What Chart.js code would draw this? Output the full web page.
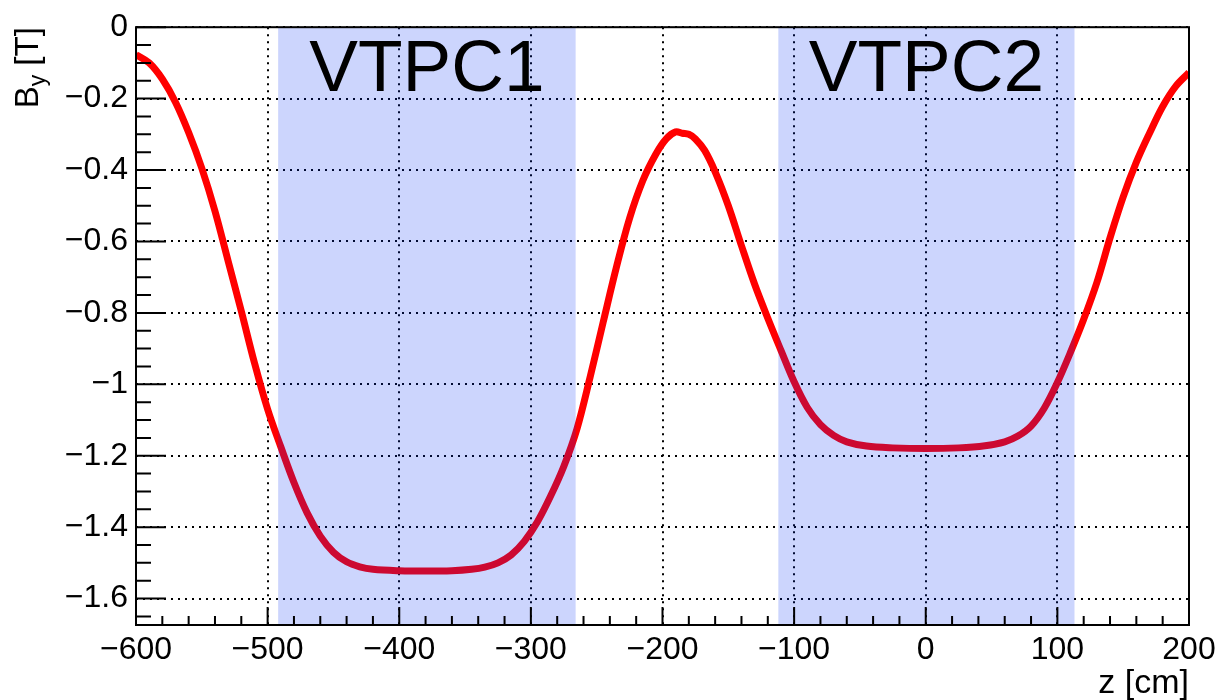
<!DOCTYPE html>
<html>
<head>
<meta charset="utf-8">
<script src="https://cdn.jsdelivr.net/npm/chart.js@4"></script>
<style>
  html, body { margin: 0; padding: 0; background: #fff; }
  #wrap { width: 1225px; height: 700px; }
</style>
</head>
<body>
<div id="wrap"><canvas id="field"></canvas></div>
<script>
/*_____________________DATA____________________*/

// z position [cm]
const zVals = [-600, -590, -580, -570, -560, -550, -540, -530, -520, -510,
  -500, -490, -480, -470, -460, -450, -440, -430, -420, -400,
  -380, -360, -345, -335, -325, -315, -305, -295, -285, -275,
  -265, -255, -245, -235, -225, -215, -205, -197, -190, -185,
  -180, -175, -168, -160, -150, -140, -130, -120, -110, -100,
  -90, -80, -70, -60, -45, -25, 0, 25, 45, 60,
  70, 80, 90, 100, 110, 120, 130, 140, 150, 160,
  170, 180, 190, 200];

// B_y [T]
const byVals = [-0.077, -0.10, -0.145, -0.21, -0.295, -0.395, -0.515, -0.655, -0.795, -0.94,
  -1.07, -1.175, -1.275, -1.36, -1.425, -1.47, -1.497, -1.511, -1.518, -1.522,
  -1.523, -1.522, -1.518, -1.512, -1.50, -1.478, -1.44, -1.385, -1.313, -1.23,
  -1.125, -0.98, -0.825, -0.672, -0.535, -0.43, -0.355, -0.312, -0.293, -0.297,
  -0.30, -0.313, -0.345, -0.405, -0.50, -0.612, -0.72, -0.815, -0.905, -0.993,
  -1.065, -1.113, -1.143, -1.161, -1.173, -1.178, -1.18, -1.178, -1.172, -1.161,
  -1.145, -1.117, -1.067, -0.995, -0.91, -0.818, -0.715, -0.59, -0.475, -0.378,
  -0.297, -0.222, -0.165, -0.127];

// detector regions
const bandNames = ['VTPC1', 'VTPC2'];
const bandStart = [-492, -112];
const bandEnd = [-266, 113];

const xMin = -600, xMax = 200;
const yMin = -1.674, yMax = 0;

const FONT = '"Liberation Sans", Arial, Helvetica, sans-serif';
const minus = v => (v < 0 ? '\u2212' : '') + Math.abs(v).toString();

/*_____________________PLUGINS____________________*/

// blue VTPC boxes are laid over the curve, then the labels
const bands = {
  id: 'bands',
  afterDatasetsDraw(chart) {
    const {ctx, chartArea: a, scales: {x}} = chart;
    ctx.save();
    for (let i = 0; i < bandNames.length; i++) {
      const x0 = x.getPixelForValue(bandStart[i]);
      const x1 = x.getPixelForValue(bandEnd[i]);
      ctx.fillStyle = 'rgba(0, 45, 245, 0.2)';
      ctx.fillRect(x0, a.top, x1 - x0, a.bottom - a.top);
      ctx.fillStyle = '#000';
      ctx.font = '73px ' + FONT;
      ctx.textAlign = 'center';
      ctx.textBaseline = 'alphabetic';
      ctx.fillText(bandNames[i], (x0 + x1) / 2, a.top + 64);
    }
    ctx.restore();
  }
};

// ROOT style frame, inward ticks and axis titles
const frame = {
  id: 'frame',
  afterDraw(chart) {
    const {ctx, chartArea: a, scales: {x, y}} = chart;
    ctx.save();
    ctx.strokeStyle = '#000';
    ctx.lineWidth = 2;
    ctx.strokeRect(a.left, a.top, a.right - a.left, a.bottom - a.top);

    ctx.beginPath();
    for (let v = xMin; v <= xMax + 0.01; v += 20) {
      const px = x.getPixelForValue(v);
      const len = Math.abs(v % 100) < 0.01 ? 18 : 9;
      ctx.moveTo(px, a.bottom);
      ctx.lineTo(px, a.bottom - len);
    }
    for (let k = 0; k * 0.05 <= -yMin; k++) {
      const py = y.getPixelForValue(-k * 0.05);
      const len = k % 4 === 0 ? 30 : 15;
      ctx.moveTo(a.left, py);
      ctx.lineTo(a.left + len, py);
    }
    ctx.stroke();

    // x title
    ctx.fillStyle = '#000';
    ctx.font = '34px ' + FONT;
    ctx.textAlign = 'right';
    ctx.textBaseline = 'alphabetic';
    ctx.fillText('z [cm]', a.right, 693);

    // y title, rotated, with subscript
    const big = '33px ' + FONT, small = '23px ' + FONT;
    ctx.font = big;
    const wB = ctx.measureText('B').width;
    const wT = ctx.measureText(' [T]').width;
    ctx.font = small;
    const wy = ctx.measureText('y').width;
    ctx.translate(38, a.top);
    ctx.rotate(-Math.PI / 2);
    ctx.textAlign = 'left';
    let pos = -(wB + wy + wT);
    ctx.font = big;
    ctx.fillText('B', pos, 0);
    pos += wB;
    ctx.font = small;
    ctx.fillText('y', pos, 7);
    pos += wy;
    ctx.font = big;
    ctx.fillText(' [T]', pos, 0);
    ctx.restore();
  }
};

/*_____________________CHART____________________*/

const field = document.getElementById('field');
const field_setup = {
  datasets: [
    {
      label: 'B_y',
      data: zVals.map((z, i) => ({x: z, y: byVals[i]})),
      borderColor: '#ff0000',
      borderWidth: 7,
      pointRadius: 0,
      tension: 0.35,
      fill: false
    }
  ]
};

new Chart(field, {
  type: 'line',
  data: field_setup,
  plugins: [bands, frame],
  options: {
    responsive: true,
    maintainAspectRatio: false,
    animation: false,
    layout: {padding: {top: 19, right: 36, left: 0, bottom: 0}},
    plugins: {legend: {display: false}, tooltip: {enabled: false}},
    scales: {
      x: {
        type: 'linear',
        min: xMin,
        max: xMax,
        afterFit: s => { s.height = 75; },
        border: {display: false, dash: [2, 5]},
        grid: {color: '#000', lineWidth: 2, drawTicks: false},
        ticks: {
          stepSize: 100,
          padding: 6,
          color: '#000',
          font: {family: FONT, size: 32},
          maxRotation: 0,
          callback: v => minus(v)
        }
      },
      y: {
        type: 'linear',
        min: yMin,
        max: yMax,
        afterFit: s => { s.width = 136; },
        border: {display: false, dash: [2, 5]},
        grid: {color: '#000', lineWidth: 2, drawTicks: false},
        ticks: {
          stepSize: 0.2,
          includeBounds: false,
          padding: 8,
          color: '#000',
          font: {family: FONT, size: 32},
          callback: v => minus(Math.round(v * 10) / 10)
        }
      }
    }
  }
});
</script>
</body>
</html>
